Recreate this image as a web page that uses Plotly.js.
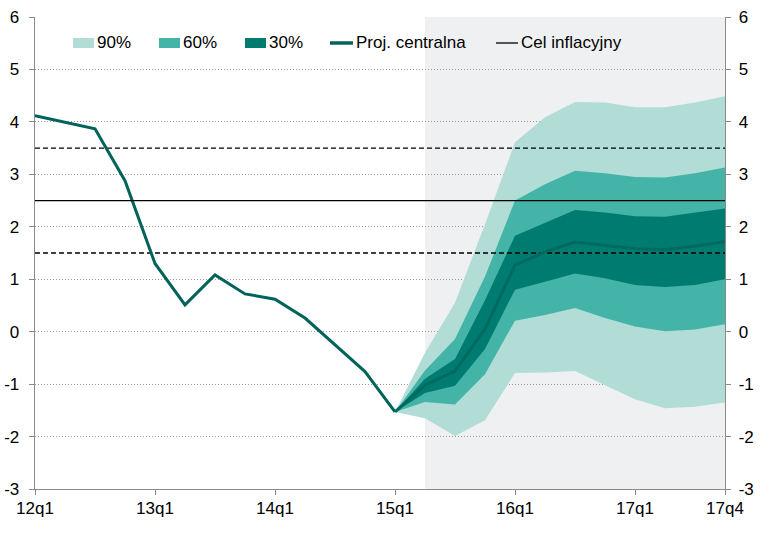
<!DOCTYPE html>
<html>
<head>
<meta charset="utf-8">
<script src="https://cdn.plot.ly/plotly-3.0.1.min.js"></script>
<style>html,body{margin:0;padding:0;background:#fff;}#chart{width:770px;height:536px;}</style>
</head>
<body>
<div id="chart"></div>
<script>
// ---- data ----
const quarters = ['12q1','12q2','12q3','12q4','13q1','13q2','13q3','13q4','14q1','14q2','14q3','14q4',
                  '15q1','15q2','15q3','15q4','16q1','16q2','16q3','16q4','17q1','17q2','17q3','17q4'];
const historyVals = [4.12, 4.00, 3.87, 2.88, 1.30, 0.51, 1.08, 0.72, 0.62, 0.26, -0.25, -0.76, -1.53];
const centralProj = [-1.53, -1.02, -0.75, 0.05, 1.27, 1.52, 1.71, 1.65, 1.58, 1.56, 1.63, 1.72];
const lo30 = [-1.53, -1.17, -1.03, -0.33, 0.80, 0.95, 1.11, 1.02, 0.89, 0.85, 0.89, 1.00];
const hi30 = [-1.53, -0.90, -0.52, 0.60, 1.83, 2.08, 2.32, 2.27, 2.20, 2.19, 2.27, 2.35];
const lo60 = [-1.53, -1.34, -1.39, -0.81, 0.21, 0.32, 0.45, 0.26, 0.10, 0.01, 0.04, 0.14];
const hi60 = [-1.53, -0.74, -0.14, 1.05, 2.50, 2.81, 3.07, 3.02, 2.95, 2.94, 3.02, 3.13];
const lo90 = [-1.53, -1.65, -1.99, -1.69, -0.79, -0.78, -0.75, -1.02, -1.29, -1.46, -1.43, -1.35];
const hi90 = [-1.53, -0.40, 0.55, 2.05, 3.61, 4.09, 4.38, 4.37, 4.28, 4.28, 4.37, 4.49];
const targetLevel = 2.5;
const toleranceBand = [1.5, 3.5];
const tickLabels = ['12q1','13q1','14q1','15q1','16q1','17q1','17q4'];
const forecastStart = '15q2';
const legendLabels = ['90%', '60%', '30%', 'Proj. centralna', 'Cel inflacyjny'];

// ---- style ----
const C_LIGHT = '#b2ddd6', C_MID = '#43b4a7', C_DARK = '#007b6f', C_LINE = '#00635a';
const FONT = '"Liberation Sans", Arial, sans-serif';
const W = 770, H = 536, ML = 35, MR = 45, MT = 17, MB = 47;
const PW = W - ML - MR, PH = H - MT - MB;
const px = v => (v - ML) / PW;      // pixel -> paper x
const py = v => (H - MB - v) / PH;  // pixel -> paper y

const projQ = quarters.slice(quarters.length - centralProj.length);
const ring = (hi, lo) => ({
  x: projQ.concat(projQ.slice().reverse()),
  y: hi.concat(lo.slice().reverse())
});

const traces = [];
[[hi90, lo90, C_LIGHT], [hi60, lo60, C_MID], [hi30, lo30, C_DARK]].forEach(([hi, lo, c]) => {
  const r = ring(hi, lo);
  traces.push({x: r.x, y: r.y, type: 'scatter', mode: 'lines', fill: 'toself',
    fillcolor: c, line: {width: 0, color: c}, hoverinfo: 'skip', showlegend: false});
});
toleranceBand.forEach(v => traces.push({
  x: [quarters[0], quarters[quarters.length - 1]], y: [v, v], type: 'scatter', mode: 'lines',
  line: {color: '#000', width: 1.3, dash: '5px,3px'}, showlegend: false, hoverinfo: 'skip'}));
traces.push({
  x: [quarters[0], quarters[quarters.length - 1]], y: [targetLevel, targetLevel], type: 'scatter', mode: 'lines',
  line: {color: '#000', width: 1.3}, showlegend: false, hoverinfo: 'skip', yaxis: 'y2'});
traces.push({x: quarters.slice(0, historyVals.length), y: historyVals, type: 'scatter', mode: 'lines',
  line: {color: C_LINE, width: 3}, showlegend: false});
traces.push({x: projQ, y: centralProj, type: 'scatter', mode: 'lines',
  line: {color: '#006a5f', width: 3}, showlegend: false});

// ---- manual legend ----
const shapes = [{type: 'rect', xref: 'x', yref: 'paper', x0: forecastStart, x1: quarters[quarters.length - 1],
  y0: 0, y1: 1, fillcolor: '#eff0f2', line: {width: 0}, layer: 'below'}];
const annotations = [];
const legY = 43;
const sw = [[73, C_LIGHT], [159, C_MID], [245, C_DARK]];
sw.forEach(([x0, c], i) => {
  shapes.push({type: 'rect', xref: 'paper', yref: 'paper', x0: px(x0), x1: px(x0 + 21),
    y0: py(legY + 5), y1: py(legY - 5), fillcolor: c, line: {width: 0}});
  annotations.push({xref: 'paper', yref: 'paper', x: px(x0 + 22), y: py(legY), xanchor: 'left', yanchor: 'middle',
    text: legendLabels[i], showarrow: false, font: {family: FONT, size: 17, color: '#000'}});
});
shapes.push({type: 'line', xref: 'paper', yref: 'paper', x0: px(330), x1: px(353), y0: py(legY), y1: py(legY),
  line: {color: C_LINE, width: 3.5}});
annotations.push({xref: 'paper', yref: 'paper', x: px(354), y: py(legY), xanchor: 'left', yanchor: 'middle',
  text: legendLabels[3], showarrow: false, font: {family: FONT, size: 17, color: '#000'}});
shapes.push({type: 'line', xref: 'paper', yref: 'paper', x0: px(496), x1: px(518), y0: py(legY), y1: py(legY),
  line: {color: '#000', width: 1.3}});
annotations.push({xref: 'paper', yref: 'paper', x: px(519), y: py(legY), xanchor: 'left', yanchor: 'middle',
  text: legendLabels[4], showarrow: false, font: {family: FONT, size: 17, color: '#000'}});

const yTicks = [-3, -2, -1, 0, 1, 2, 3, 4, 5, 6];
const yAxisCommon = {range: [-3, 6], tickvals: yTicks, ticktext: yTicks.map(String), showline: true,
  linecolor: '#8a8a8a', linewidth: 1.3, ticks: 'outside', ticklen: 5, tickcolor: '#8a8a8a',
  zeroline: false, fixedrange: true, tickfont: {family: FONT, size: 17, color: '#000'}};

const layout = {
  width: W, height: H, margin: {l: ML, r: MR, t: MT, b: MB, pad: 0},
  paper_bgcolor: '#fff', plot_bgcolor: 'rgba(0,0,0,0)', showlegend: false,
  xaxis: {type: 'category', categoryorder: 'array', categoryarray: quarters, range: [0, quarters.length - 1],
    tickmode: 'array', tickvals: tickLabels, ticktext: tickLabels, showgrid: false, showline: true,
    linecolor: '#8a8a8a', linewidth: 1.3, ticks: 'outside', ticklen: 5, tickcolor: '#8a8a8a',
    tickfont: {family: FONT, size: 17, color: '#000'}, fixedrange: true, ticklabelstandoff: -2},
  yaxis: Object.assign({}, yAxisCommon, {showgrid: true, gridcolor: '#9a9a9a', griddash: '1px,2px', gridwidth: 1,
    ticklabelstandoff: 6}),
  yaxis2: Object.assign({}, yAxisCommon, {overlaying: 'y', side: 'right', showgrid: false, ticklabelstandoff: 4}),
  shapes: shapes, annotations: annotations
};
Plotly.newPlot('chart', traces, layout, {staticPlot: true, displayModeBar: false});
</script>
</body>
</html>
